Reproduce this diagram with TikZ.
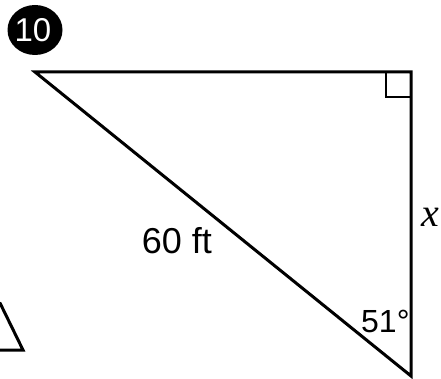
\documentclass[tikz,border=0pt]{standalone}
\usepackage{fontspec}
\setmainfont{Liberation Sans}
\newfontfamily\varfont{Liberation Serif}
\begin{document}
\begin{tikzpicture}[x=1pt,y=-1pt,
  edge/.style={line width=3pt,line join=miter,line cap=round},
  lbl/.style={inner sep=0pt,font=\fontsize{36}{36}\selectfont}]
\useasboundingbox (0,0) rectangle (441,379);
% number badge
\fill[black] (35,30) ellipse [x radius=27.5, y radius=25];
\node[text=white,inner sep=0pt,font=\fontsize{33}{33}\selectfont] (num) at (33,30) {10};
% main triangle
\coordinate (A) at (35,72);
\coordinate (B) at (411,72);
\coordinate (C) at (411,376);
\draw[edge] (A) -- (B) -- (C) -- cycle;
% right angle mark
\draw[line width=2.2pt] (386,72) -- (386,97) -- (411,97);
% labels
\node[lbl] (hyp) at (177,241) {60 ft};
\node[inner sep=0pt,font=\varfont\itshape\fontsize{40}{40}\selectfont] (x) at (430,217) {x};
\node[inner sep=0pt,anchor=west,font=\fontsize{32}{32}\selectfont] (ang) at (361,321) {51\textdegree};
% partial neighbouring triangle
\coordinate (P) at (0,303);
\coordinate (Q) at (23,350);
\coordinate (R) at (0,350);
\draw[edge] (P) -- (Q) -- (R);
\end{tikzpicture}
\end{document}
